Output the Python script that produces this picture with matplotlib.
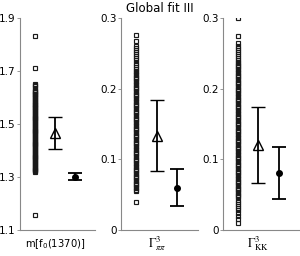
import matplotlib
matplotlib.use("Agg")
import matplotlib.pyplot as plt

# scan values (squares)
m_scan = [1.155,
          1.318, 1.321, 1.325, 1.328, 1.332, 1.335, 1.339, 1.342, 1.346, 1.349, 1.353, 1.356,
          1.360, 1.363, 1.367, 1.370, 1.374, 1.377, 1.381, 1.384, 1.388, 1.391, 1.395, 1.398,
          1.402, 1.405, 1.409, 1.412, 1.416, 1.419, 1.423, 1.426, 1.430, 1.433, 1.437, 1.440,
          1.444, 1.447, 1.451, 1.454, 1.458, 1.461, 1.465, 1.468, 1.472, 1.475, 1.479, 1.482,
          1.486, 1.489, 1.493, 1.496, 1.500, 1.503, 1.507, 1.510, 1.514, 1.517, 1.521, 1.524,
          1.528, 1.531, 1.535, 1.538, 1.542, 1.545, 1.549, 1.552, 1.556, 1.559, 1.563, 1.566,
          1.570, 1.573, 1.577, 1.580, 1.584, 1.587, 1.591, 1.594, 1.598, 1.601, 1.605, 1.608,
          1.612, 1.615, 1.619, 1.622, 1.626, 1.630, 1.636, 1.642, 1.647, 1.652,
          1.710, 1.832]
gpp_scan = [0.040,
            0.055, 0.057, 0.059, 0.061, 0.063, 0.065, 0.067, 0.069, 0.071, 0.073, 0.075, 0.077,
            0.079, 0.081, 0.083, 0.085, 0.087, 0.089, 0.091, 0.093, 0.095, 0.097, 0.099, 0.101,
            0.103, 0.105, 0.107, 0.109, 0.111, 0.113, 0.115, 0.117, 0.119, 0.121, 0.123, 0.125,
            0.127, 0.129, 0.131, 0.133, 0.135, 0.137, 0.139, 0.141, 0.143, 0.145, 0.147, 0.149,
            0.151, 0.153, 0.155, 0.157, 0.159, 0.161, 0.163, 0.165, 0.167, 0.169, 0.171, 0.173,
            0.175, 0.177, 0.179, 0.181, 0.183, 0.185, 0.187, 0.189, 0.191, 0.193, 0.195, 0.197,
            0.199, 0.201, 0.203, 0.205, 0.207, 0.209, 0.211, 0.213, 0.215, 0.217, 0.219, 0.221,
            0.223, 0.225, 0.228, 0.231, 0.234, 0.237, 0.240, 0.243, 0.246, 0.249, 0.252, 0.255,
            0.258, 0.260, 0.268, 0.276]
gkk_scan = [0.010, 0.015, 0.020, 0.024, 0.028, 0.031, 0.034, 0.037, 0.040, 0.043, 0.046, 0.048,
            0.050, 0.052, 0.054, 0.056, 0.058, 0.060, 0.062, 0.064, 0.066, 0.068, 0.070, 0.072,
            0.074, 0.076, 0.078, 0.080, 0.082, 0.084, 0.086, 0.088, 0.090, 0.092, 0.094, 0.096,
            0.098, 0.100, 0.102, 0.104, 0.106, 0.108, 0.110, 0.112, 0.114, 0.116, 0.118, 0.120,
            0.122, 0.124, 0.126, 0.128, 0.130, 0.132, 0.134, 0.136, 0.138, 0.140, 0.142, 0.144,
            0.146, 0.148, 0.150, 0.152, 0.154, 0.156, 0.158, 0.160, 0.162, 0.164, 0.166, 0.168,
            0.170, 0.172, 0.174, 0.176, 0.178, 0.180, 0.182, 0.184, 0.186, 0.188, 0.190, 0.192,
            0.194, 0.196, 0.198, 0.200, 0.202, 0.204, 0.206, 0.208, 0.210, 0.212, 0.214, 0.216,
            0.218, 0.220, 0.222, 0.224, 0.226, 0.228, 0.230, 0.232, 0.234, 0.236, 0.238, 0.240,
            0.243, 0.246, 0.249, 0.252, 0.255, 0.258, 0.261, 0.264, 0.274, 0.300]

# fit results: value, lower, upper
tri_vals = [1.465, 0.133, 0.120]
tri_lo = [1.405, 0.083, 0.067]
tri_hi = [1.525, 0.184, 0.174]
dot_vals = [1.300, 0.060, 0.080]
dot_lo = [1.288, 0.034, 0.044]
dot_hi = [1.315, 0.086, 0.118]

labels = [r'm[f$_0$(1370)]', r'$\Gamma^3_{\pi\pi}$', r'$\Gamma^3_{\rm KK}$']
ylims = [(1.1, 1.9), (0.0, 0.3), (0.0, 0.3)]
yticks = [[1.1, 1.3, 1.5, 1.7, 1.9], [0, 0.1, 0.2, 0.3], [0, 0.1, 0.2, 0.3]]
yticklabels = [['1.1', '1.3', '1.5', '1.7', '1.9'], ['0', '0.1', '0.2', '0.3'], ['0', '0.1', '0.2', '0.3']]
scans = [m_scan, gpp_scan, gkk_scan]

fig = plt.figure(figsize=(3.0, 2.56), dpi=100)
lefts = [20/300, 121/300, 223/300]
widths = [75/300, 77/300, 76/300]
bottom = 1 - 230/256
height = (230 - 18) / 256

for i in range(3):
    ax = fig.add_axes([lefts[i], bottom, widths[i], height])
    ax.plot([1]*len(scans[i]), scans[i], ls='none', marker='s', ms=2.3,
            mfc='none', mec='#1a1a1a', mew=0.85)
    ax.errorbar([2], [tri_vals[i]], yerr=[[tri_vals[i]-tri_lo[i]], [tri_hi[i]-tri_vals[i]]],
                fmt='^', ms=7, mfc='none', mec='black', mew=1.0, ecolor='black',
                elinewidth=1.3, capsize=5, capthick=1.3, color='black')
    ax.errorbar([3], [dot_vals[i]], yerr=[[dot_vals[i]-dot_lo[i]], [dot_hi[i]-dot_vals[i]]],
                fmt='o', ms=4, mfc='black', mec='black', ecolor='black',
                elinewidth=1.3, capsize=5, capthick=1.3, color='black')
    ax.set_xlim(0.25, 4.0)
    ax.set_ylim(*ylims[i])
    ax.set_yticks(yticks[i])
    ax.set_yticklabels(yticklabels[i])
    ax.set_xticks([2])
    ax.set_xticklabels([labels[i]])
    for s in ['top', 'right']:
        ax.spines[s].set_visible(False)
    for s in ['left', 'bottom']:
        ax.spines[s].set_color('#888888')
        ax.spines[s].set_linewidth(0.8)
    ax.tick_params(axis='y', direction='out', length=2, width=0.6, color='#888888',
                   labelsize=7.5, pad=1)
    if i == 0:
        ax.tick_params(axis='x', length=0, labelsize=7.2, pad=5)
    else:
        ax.tick_params(axis='x', length=0, labelsize=9, pad=3)
        for t in ax.get_xticklabels():
            t.set_math_fontfamily('stix')
    if i == 1:
        ax.set_title('Global fit III', fontsize=8.5, pad=4)

fig.savefig('out.png', dpi=100)
